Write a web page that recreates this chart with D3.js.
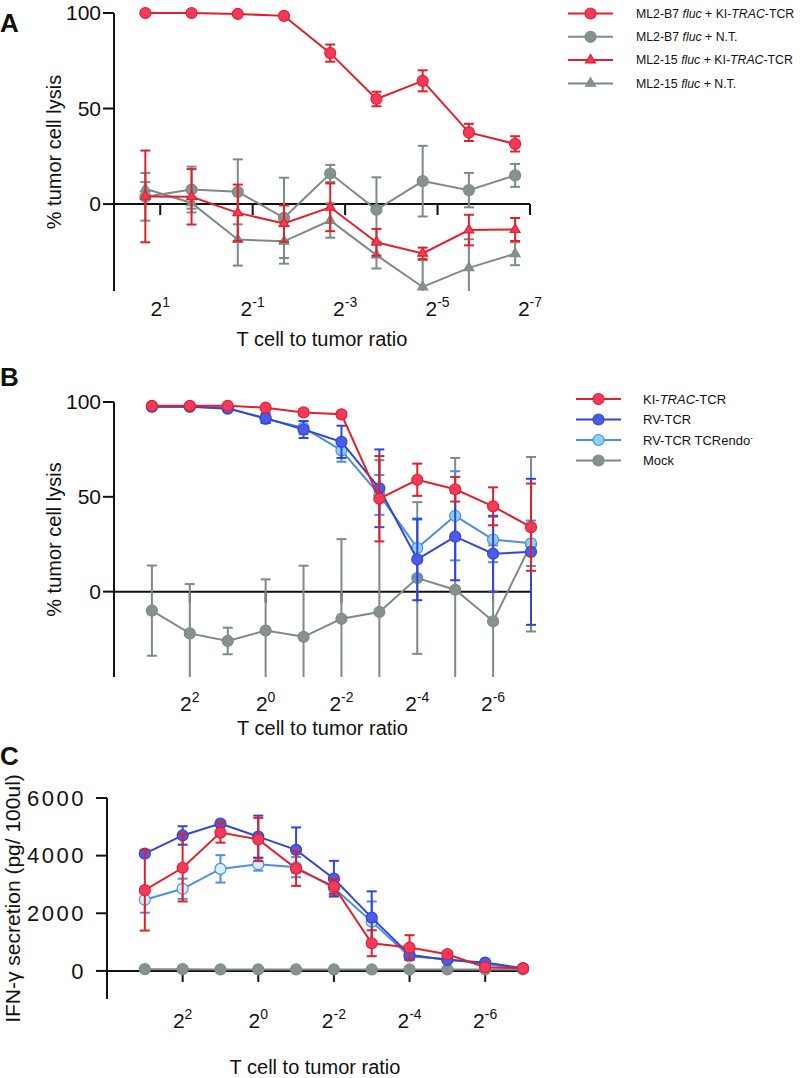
<!DOCTYPE html>
<html><head><meta charset="utf-8">
<script src="https://cdn.jsdelivr.net/npm/d3@7"></script>
<style>body{margin:0;background:#fff} text{font-family:"Liberation Sans",Arial,Helvetica,sans-serif;fill:#111}</style>
</head><body><svg id="c" width="802" height="1078"></svg>
<script>
// ---------- DATA ----------
const ratiosA = [2.5, 1.25, 0.625, 0.3125, 0.15625, 0.078125, 0.0390625, 0.01953125, 0.009765625];
const ratiosBC = [8, 4, 2, 1, 0.5, 0.25, 0.125, 0.0625, 0.03125, 0.015625, 0.0078125];

const xTickExpA = [1, -1, -3, -5, -7];
const xTickExpBC = [2, 0, -2, -4, -6];
const yTicksAB = [0, 50, 100];
const yTicksC = [0, 2000, 4000, 6000];

// Panel A
const aB7KI = [100, 100, 99.5, 98.5, 79, 55, 64.5, 37.5, 31.5];
const aB7KIErr = [0.5, 0.5, 0.5, 0.8, 4.5, 3.8, 5.5, 4.5, 4];
const aB7NT = [3.8, 7.6, 6.4, -7.2, 16, -3, 12, 7.3, 15];
const aB7NTErr = [12.5, 12, 17, 21, 4.5, 17, 18.5, 9, 6];
const a15KI = [4, 3.8, -4.6, -10.2, -1.7, -20, -25.8, -13.6, -13.3];
const a15KIErr = [24, 14.5, 14.8, 9.5, 12.5, 7, 3, 8, 6];
const a15NT = [8, 0.6, -18.6, -19.5, -8.6, -26.7, -43.4, -33.4, -26];
const a15NTErr = [3.5, 3, 13.6, 11.7, 9, 7, 14, 15, 6];

// Panel B
const bKI = [98, 98, 98, 97, 94.5, 93.5, 49, 59, 54, 45, 34];
const bKIErr = [0.5, 0.5, 0.5, 0.8, 1.5, 1, 22.5, 8.5, 6.5, 10, 23];
const bRV = [97.5, 97.5, 96.5, 91.5, 85.5, 79, 54.5, 17, 29, 20, 21];
const bRVErr = [0.5, 0.5, 0.8, 2.5, 4.5, 8.5, 20.5, 21.5, 23, 20, 38.5];
const bRVendo = [97.5, 97.5, 97, 91, 86.5, 74.5, 51, 23, 40, 27.5, 25.5];
const bRVendoErr = [0.5, 0.5, 0.8, 2, 3.5, 6, 10.5, 15, 23.5, 12, 12];
const bMock = [-10, -22, -26, -20.5, -23.8, -14.3, -10.7, 7.2, 1, -15.6, 25];
const bMockErr = [23.8, 26, 7, 27, 37.5, 42, 80, 40, 69.5, 40, 46];

// Panel C
const cKI = [2800, 3580, 4800, 4560, 3550, 2930, 960, 810, 580, 130, 90];
const cKIErr = [1400, 1170, 350, 750, 600, 250, 450, 430, 100, 60, 30];
const cRV = [4070, 4700, 5110, 4660, 4200, 3200, 1850, 560, 380, 290, 90];
const cRVErr = [100, 320, 80, 730, 780, 620, 910, 150, 80, 100, 30];
const cRVendo = [2470, 2850, 3540, 3700, 3600, 2880, 1710, 500, 410, 230, 90];
const cRVendoErr = [450, 350, 475, 220, 350, 250, 700, 120, 80, 60, 30];
const cMock = [60, 60, 50, 50, 50, 50, 50, 50, 50, 50, 50];
const cMockErr = [0, 0, 0, 0, 0, 0, 0, 0, 0, 0, 0];

// ---------- STYLES ----------
const RED = {line: "#e3202a", fill: "#f23a5c"};
const GRAY = {line: "#7e8a88", fill: "#87928f"};
const BLUE = {line: "#3445d4", fill: "#4c5ce6"};
const LBLUE = {line: "#4b8fe0", fill: "#8ad3f7"};

const svg = d3.select("#c");

function panel(cfg) {
  const g = svg.append("g");
  const x = d3.scaleLog().base(2).domain(cfg.xDomain).range(cfg.xRange);
  const y = d3.scaleLinear().domain(cfg.yDomain).range(cfg.yRange);
  const clampY = v => Math.max(cfg.yDomain[0], Math.min(cfg.yDomain[1], v));

  // y axis
  g.append("line").attr("x1", cfg.xRange[0]).attr("x2", cfg.xRange[0])
    .attr("y1", y(cfg.yDomain[1])).attr("y2", y(cfg.yDomain[0]))
    .attr("stroke", "#111").attr("stroke-width", 2);
  cfg.yTicks.forEach(t => {
    g.append("line").attr("x1", cfg.xRange[0] - 11).attr("x2", cfg.xRange[0])
      .attr("y1", y(t)).attr("y2", y(t)).attr("stroke", "#111").attr("stroke-width", 2);
    g.append("text").attr("x", cfg.xRange[0] - 13 - cfg.yLabelGap).attr("y", y(t))
      .attr("dy", "0.35em").attr("text-anchor", "end").attr("font-size", cfg.yTickFont)
      .attr("letter-spacing", cfg.yTickSpacing || 0)
      .text(t);
  });
  // zero line (x axis)
  g.append("line").attr("x1", cfg.xRange[0]).attr("x2", cfg.xRange[1])
    .attr("y1", y(0)).attr("y2", y(0)).attr("stroke", "#111").attr("stroke-width", 2);
  cfg.xTickExp.forEach(e => {
    const xv = x(Math.pow(2, e));
    g.append("line").attr("x1", xv).attr("x2", xv).attr("y1", y(0)).attr("y2", y(0) + 11)
      .attr("stroke", "#111").attr("stroke-width", 2);
    const t = g.append("text").attr("x", xv).attr("y", cfg.xLabelY)
      .attr("text-anchor", "middle").attr("font-size", 21);
    t.append("tspan").text("2");
    t.append("tspan").attr("dy", -9).attr("font-size", 14).text(e);
  });
  // x title
  g.append("text").attr("x", (cfg.xRange[0] + cfg.xRange[1]) / 2).attr("y", cfg.xTitleY)
    .attr("text-anchor", "middle").attr("font-size", 20).text("T cell to tumor ratio");
  // y title
  g.append("text")
    .attr("transform", `translate(${cfg.yTitleX},${(y(cfg.yDomain[0]) + y(cfg.yDomain[1])) / 2}) rotate(-90)`)
    .attr("text-anchor", "middle").attr("font-size", cfg.yTitleFont).text(cfg.yTitle);
  // panel letter
  g.append("text").attr("x", 0).attr("y", cfg.letterY).attr("font-size", 26)
    .attr("font-weight", "bold").text(cfg.letter);

  // series
  cfg.series.forEach(s => {
    const pts = s.vals.map((v, i) => ({x: x(s.ratios[i]), v, e: s.err[i]}));
    pts.forEach(p => {
      if (!p.e) return;
      const top = y(clampY(p.v + p.e)), bot = y(clampY(p.v - p.e));
      g.append("line").attr("x1", p.x).attr("x2", p.x).attr("y1", top).attr("y2", bot)
        .attr("stroke", s.c.line).attr("stroke-width", 2);
      if (p.v + p.e <= cfg.yDomain[1] && p.v + p.e >= cfg.yDomain[0])
        g.append("line").attr("x1", p.x - 5).attr("x2", p.x + 5).attr("y1", top).attr("y2", top)
          .attr("stroke", s.c.line).attr("stroke-width", 2);
      if (p.v - p.e >= cfg.yDomain[0])
        g.append("line").attr("x1", p.x - 5).attr("x2", p.x + 5).attr("y1", bot).attr("y2", bot)
          .attr("stroke", s.c.line).attr("stroke-width", 2);
    });
    g.append("path").datum(pts)
      .attr("d", d3.line().x(p => p.x).y(p => y(p.v)))
      .attr("fill", "none").attr("stroke", s.c.line).attr("stroke-width", 2);
    pts.forEach(p => marker(g, s.shape, p.x, y(p.v), s.c));
  });

  // legend
  cfg.legend.forEach((l, i) => {
    const ly = cfg.legY + i * cfg.legStep;
    g.append("line").attr("x1", cfg.legX).attr("x2", cfg.legX + 45).attr("y1", ly).attr("y2", ly)
      .attr("stroke", l.c.line).attr("stroke-width", 2);
    marker(g, l.shape, cfg.legX + 22.5, ly, l.c);
    const t = g.append("text").attr("x", cfg.legX + cfg.legTextOff).attr("y", ly).attr("dy", "0.35em")
      .attr("font-size", cfg.legFont);
    l.parts.forEach(pt => {
      const ts = t.append("tspan").text(pt.t);
      if (pt.i) ts.attr("font-style", "italic");
      if (pt.sup) ts.attr("font-size", 8).attr("dy", -5);
    });
  });
}

function marker(g, shape, cx, cy, c) {
  if (shape === "tri") {
    g.append("path").attr("d", d3.symbol(d3.symbolTriangle, 42)())
      .attr("transform", `translate(${cx},${cy})`)
      .attr("fill", c.fill).attr("stroke", c.line).attr("stroke-width", 1.2);
  } else {
    g.append("circle").attr("cx", cx).attr("cy", cy).attr("r", 5.5)
      .attr("fill", c.fill).attr("stroke", c.line).attr("stroke-width", 1.2);
  }
}

// Panel A
panel({
  letter: "A", letterY: 32,
  xDomain: [4, Math.pow(2, -7)], xRange: [114, 530],
  yDomain: [-45.5, 100], yRange: [291, 13],
  yTicks: yTicksAB, yTickFont: 21, yLabelGap: 0,
  xTickExp: xTickExpA, xLabelY: 316, xTitleY: 346,
  yTitle: "% tumor cell lysis", yTitleX: 61, yTitleFont: 20,
  series: [
    {vals: a15NT, err: a15NTErr, ratios: ratiosA, c: GRAY, shape: "tri"},
    {vals: aB7NT, err: aB7NTErr, ratios: ratiosA, c: GRAY, shape: "circle"},
    {vals: a15KI, err: a15KIErr, ratios: ratiosA, c: RED, shape: "tri"},
    {vals: aB7KI, err: aB7KIErr, ratios: ratiosA, c: RED, shape: "circle"}
  ],
  legX: 568, legY: 13.5, legStep: 23.3, legTextOff: 68, legFont: 12.3,
  legend: [
    {c: RED, shape: "circle", parts: [{t: "ML2-B7 "}, {t: "fluc", i: 1}, {t: " + KI-"}, {t: "TRAC", i: 1}, {t: "-TCR"}]},
    {c: GRAY, shape: "circle", parts: [{t: "ML2-B7 "}, {t: "fluc", i: 1}, {t: " + N.T."}]},
    {c: RED, shape: "tri", parts: [{t: "ML2-15 "}, {t: "fluc", i: 1}, {t: " + KI-"}, {t: "TRAC", i: 1}, {t: "-TCR"}]},
    {c: GRAY, shape: "tri", parts: [{t: "ML2-15 "}, {t: "fluc", i: 1}, {t: " + N.T."}]}
  ]
});

// Panel B
panel({
  letter: "B", letterY: 386,
  xDomain: [16, Math.pow(2, -7)], xRange: [114, 531],
  yDomain: [-45, 100], yRange: [677, 402],
  yTicks: yTicksAB, yTickFont: 21, yLabelGap: 0,
  xTickExp: xTickExpBC, xLabelY: 711, xTitleY: 735,
  yTitle: "% tumor cell lysis", yTitleX: 61, yTitleFont: 20,
  series: [
    {vals: bMock, err: bMockErr, ratios: ratiosBC, c: GRAY, shape: "circle"},
    {vals: bRVendo, err: bRVendoErr, ratios: ratiosBC, c: LBLUE, shape: "circle"},
    {vals: bRV, err: bRVErr, ratios: ratiosBC, c: BLUE, shape: "circle"},
    {vals: bKI, err: bKIErr, ratios: ratiosBC, c: RED, shape: "circle"}
  ],
  legX: 576, legY: 399, legStep: 20.5, legTextOff: 67, legFont: 13,
  legend: [
    {c: RED, shape: "circle", parts: [{t: "KI-"}, {t: "TRAC", i: 1}, {t: "-TCR"}]},
    {c: BLUE, shape: "circle", parts: [{t: "RV-TCR"}]},
    {c: LBLUE, shape: "circle", parts: [{t: "RV-TCR TCRendo"}, {t: "-", sup: 1}]},
    {c: GRAY, shape: "circle", parts: [{t: "Mock"}]}
  ]
});

// Panel C
const LBLUE_C = {line: LBLUE.line, fill: "#d6effc"};
panel({
  letter: "C", letterY: 765,
  xDomain: [16, Math.pow(2, -7)], xRange: [107, 523],
  yDomain: [-975, 6000], yRange: [999, 798],
  yTicks: yTicksC, yTickFont: 22, yTickSpacing: 2.5, yLabelGap: 8,
  xTickExp: xTickExpBC, xLabelY: 1028, xTitleY: 1074,
  yTitle: "IFN-γ secretion (pg/ 100ul)", yTitleX: 20, yTitleFont: 21,
  series: [
    {vals: cMock, err: cMockErr, ratios: ratiosBC, c: GRAY, shape: "circle"},
    {vals: cRVendo, err: cRVendoErr, ratios: ratiosBC, c: LBLUE_C, shape: "circle"},
    {vals: cRV, err: cRVErr, ratios: ratiosBC, c: BLUE, shape: "circle"},
    {vals: cKI, err: cKIErr, ratios: ratiosBC, c: RED, shape: "circle"}
  ],
  legX: 0, legY: 0, legStep: 0, legTextOff: 0, legFont: 13, legend: []
});
</script></body></html>
